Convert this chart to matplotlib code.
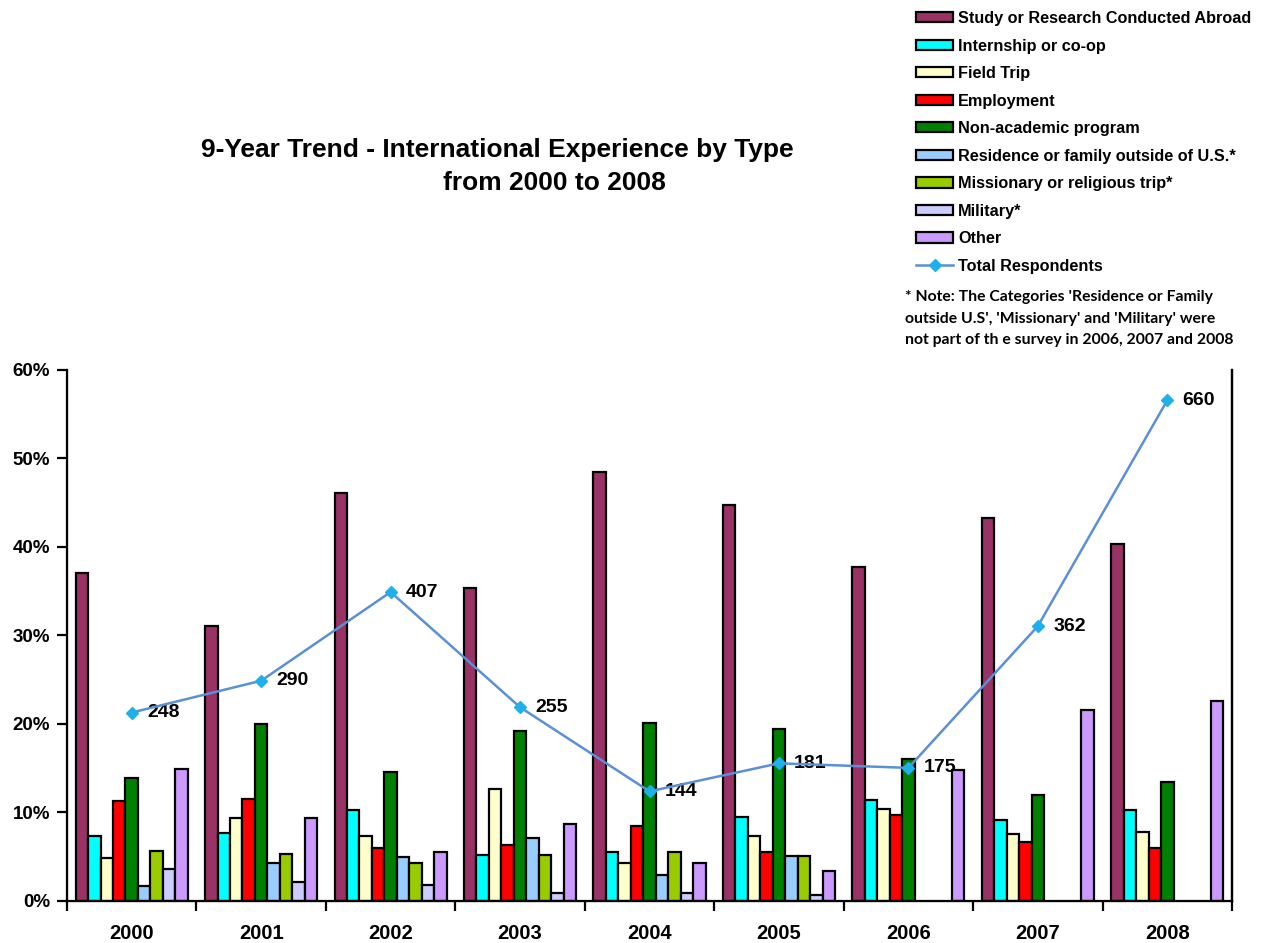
import matplotlib
matplotlib.use("Agg")
import matplotlib.pyplot as plt
from matplotlib.lines import Line2D
from matplotlib.patches import Patch
from matplotlib.ticker import FixedLocator, PercentFormatter
import numpy as np

plt.rcParams['font.family'] = ['Liberation Sans', 'DejaVu Sans']

years = ["2000", "2001", "2002", "2003", "2004", "2005", "2006", "2007", "2008"]
categories = ["Study or Research Conducted Abroad", "Internship or co-op", "Field Trip",
              "Employment", "Non-academic program", "Residence or family outside of U.S.*",
              "Missionary or religious trip*", "Military*", "Other"]
colors = ["#993366", "#00FFFF", "#FFFFCC", "#FF0000", "#008000", "#99CCFF",
          "#99CC00", "#CCCCFF", "#CC99FF"]

study = [37.0, 31.0, 46.1, 35.3, 48.5, 44.7, 37.7, 43.3, 40.3]
internship = [7.3, 7.6, 10.2, 5.2, 5.5, 9.4, 11.4, 9.1, 10.2]
field_trip = [4.8, 9.3, 7.3, 12.6, 4.2, 7.3, 10.4, 7.5, 7.8]
employment = [11.3, 11.5, 5.9, 6.3, 8.4, 5.5, 9.7, 6.6, 5.9]
non_academic = [13.8, 20.0, 14.5, 19.2, 20.1, 19.4, 16.0, 11.9, 13.4]
residence = [1.6, 4.2, 4.9, 7.1, 2.9, 5.0, None, None, None]
missionary = [5.6, 5.3, 4.2, 5.2, 5.5, 5.0, None, None, None]
military = [3.6, 2.1, 1.8, 0.8, 0.8, 0.6, None, None, None]
other = [14.9, 9.3, 5.5, 8.7, 4.2, 3.3, 14.8, 21.5, 22.6]
total_respondents = [248, 290, 407, 255, 144, 181, 175, 362, 660]

series = [study, internship, field_trip, employment, non_academic,
          residence, missionary, military, other]

fig = plt.figure(figsize=(12.64, 9.43), dpi=100)
ax = fig.add_axes([67/1264, 1-900.5/943, (1232-67)/1264, (900.5-370)/943])

n = len(series)
bw = 0.0962
x = np.arange(len(years))
for i, (vals, col) in enumerate(zip(series, colors)):
    xs = [x[j] + (i - (n-1)/2) * bw for j in range(len(years)) if vals[j] is not None]
    hs = [vals[j] / 100 for j in range(len(years)) if vals[j] is not None]
    ax.bar(xs, hs, width=bw, color=col, edgecolor="black", linewidth=1.6, zorder=2)

ax.set_xlim(-0.5, len(years) - 0.5)
ax.set_ylim(0, 0.6)
ax.yaxis.set_major_locator(FixedLocator([0, 0.1, 0.2, 0.3, 0.4, 0.5, 0.6]))
ax.yaxis.set_major_formatter(PercentFormatter(1.0, decimals=0))
ax.set_xticks(x)
ax.set_xticklabels(years)
ax.set_xticks(np.arange(-0.5, len(years)), minor=True)
ax.tick_params(axis='x', which='major', length=0, pad=17, labelsize=14.5)
ax.tick_params(axis='x', which='minor', length=7, width=1.6, direction='out')
ax.tick_params(axis='y', length=7, width=1.6, direction='out', labelsize=13.5, pad=5)
for lab in ax.get_xticklabels() + ax.get_yticklabels():
    lab.set_fontweight('bold')
ax.spines['top'].set_visible(False)
for s in ['left', 'bottom', 'right']:
    ax.spines[s].set_linewidth(1.6)

ax2 = ax.twinx()
ax2.set_ylim(0, 700)
ax2.set_yticks([])
ax2.spines['top'].set_visible(False)
ax2.spines['right'].set_linewidth(1.6)
ax2.plot(x, total_respondents, color="#5B8FD6", linewidth=1.8, marker="D",
         markersize=6, markerfacecolor="#1FB0EC", markeredgecolor="#1FB0EC", zorder=5)
for xi, v in zip(x, total_respondents):
    ax2.annotate(str(v), (xi, v), xytext=(11, 0), textcoords='offset points',
                 ha='left', va='center', fontsize=14, fontweight='bold')

fig.text(497/1264, 1-150/943, "9-Year Trend - International Experience by Type",
         ha='center', va='center', fontsize=19, fontweight='bold')
fig.text(554/1264, 1-183/943, "from 2000 to 2008",
         ha='center', va='center', fontsize=19, fontweight='bold')

handles = [Patch(facecolor=c, edgecolor='black', linewidth=1.6) for c in colors]
handles.append(Line2D([], [], color="#5B8FD6", linewidth=1.8, marker="D", markersize=6,
                      markerfacecolor="#1FB0EC", markeredgecolor="#1FB0EC"))
labels = categories + ["Total Respondents"]
leg = fig.legend(handles, labels, loc='upper left', bbox_to_anchor=(916/1264, 1-11/943),
                 frameon=False, fontsize=11.7, handlelength=2.3, handleheight=0.6,
                 handletextpad=0.3, labelspacing=0.77, borderpad=0, borderaxespad=0)
for t in leg.get_texts():
    t.set_fontweight('bold')

note = ("* Note: The Categories 'Residence or Family\n"
        "outside U.S', 'Missionary' and 'Military' were\n"
        "not part of th e survey in 2006, 2007 and 2008")
fig.text(905/1264, 1-290/943, note, ha='left', va='top', fontsize=11.3,
         fontweight='bold', family=['Lato', 'DejaVu Sans'], linespacing=1.7)

fig.savefig("out.png", dpi=100)
